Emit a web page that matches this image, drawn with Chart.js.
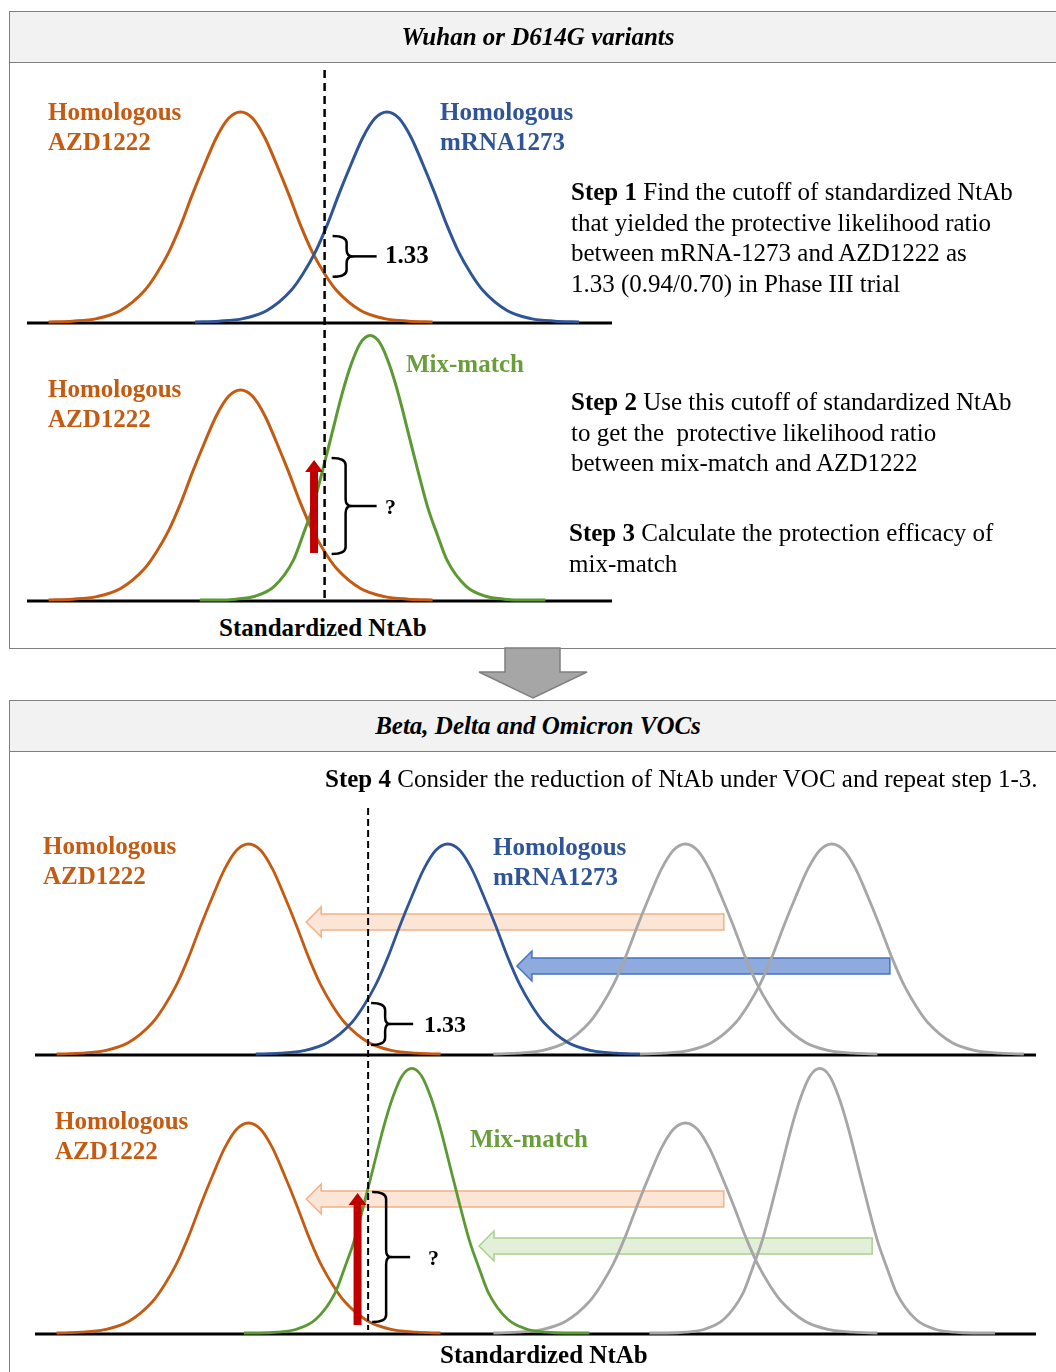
<!DOCTYPE html>
<html>
<head>
<meta charset="utf-8">
<script src="https://cdn.jsdelivr.net/npm/chart.js@4.4.1/dist/chart.umd.min.js"></script>
<style>
html,body{margin:0;padding:0;background:#fff;}
#page{position:relative;width:1056px;height:1372px;overflow:hidden;font-family:"Liberation Serif","Times New Roman",serif;color:#000;}
.box{position:absolute;left:9px;width:1062px;border:1.5px solid #7f7f7f;box-sizing:border-box;z-index:1;}
.hdr{position:absolute;left:0;right:0;top:0;height:50px;background:#f2f2f2;border-bottom:1.5px solid #7f7f7f;}
svg{position:absolute;left:0;top:0;z-index:2;}
canvas{position:absolute;left:0;z-index:3;}
.t{position:absolute;white-space:nowrap;font-size:25px;line-height:30.5px;z-index:4;}
.b{font-weight:bold;}
.hd{position:absolute;left:0;width:1076px;text-align:center;font-size:25px;font-weight:bold;font-style:italic;line-height:30px;z-index:4;}
.or{color:#C55A11;font-weight:bold;line-height:30px;}
.bl{color:#2F5597;font-weight:bold;line-height:30px;}
.gr{color:#6A9E3A;font-weight:bold;}
</style>
</head>
<body>
<div id="page">
  <div class="box" style="top:11px;height:638px;"><div class="hdr"></div></div>
  <div class="box" style="top:700px;height:700px;"><div class="hdr"></div></div>
  <svg width="1056" height="1372"><polygon points="505,648 560,648 560,672 587,672 533,698 479,672 505,672" fill="#a6a6a6" stroke="#7f7f7f" stroke-width="1.5"/></svg>

  <div class="hd" style="top:22px;">Wuhan or D614G variants</div>
  <div class="hd" style="top:711px;">Beta, Delta and Omicron VOCs</div>

  <canvas id="c1" width="620" height="283" style="top:44px;width:620px;height:283px;"></canvas>
  <canvas id="c2" width="620" height="285" style="top:327px;width:620px;height:285px;"></canvas>
  <canvas id="c3" width="1056" height="277" style="top:781px;width:1056px;height:277px;"></canvas>
  <canvas id="c4" width="1056" height="314" style="top:1058px;width:1056px;height:314px;"></canvas>

  <div class="t or" style="left:48px;top:97px;">Homologous<br>AZD1222</div>
  <div class="t bl" style="left:440px;top:97px;">Homologous<br>mRNA1273</div>
  <div class="t b" style="left:385px;top:240px;">1.33</div>
  <div class="t" style="left:571px;top:177px;"><b>Step 1</b> Find the cutoff of standardized NtAb<br>that yielded the protective likelihood ratio<br>between mRNA-1273 and AZD1222 as<br>1.33 (0.94/0.70) in Phase III trial</div>

  <div class="t gr" style="left:406px;top:349px;">Mix-match</div>
  <div class="t or" style="left:48px;top:374px;">Homologous<br>AZD1222</div>
  <div class="t b" style="left:385px;top:492px;font-size:22px;">?</div>
  <div class="t" style="left:571px;top:387px;"><b>Step 2</b> Use this cutoff of standardized NtAb<br>to get the&nbsp; protective likelihood ratio<br>between mix-match and AZD1222</div>
  <div class="t" style="left:569px;top:518px;"><b>Step 3</b> Calculate the protection efficacy of<br>mix-match</div>
  <div class="t b" style="left:219px;top:613px;">Standardized NtAb</div>

  <div class="t" style="left:325px;top:764px;"><b>Step 4</b> Consider the reduction of NtAb under VOC and repeat step 1-3.</div>
  <div class="t or" style="left:43px;top:831px;">Homologous<br>AZD1222</div>
  <div class="t bl" style="left:493px;top:832px;">Homologous<br>mRNA1273</div>
  <div class="t b" style="left:424px;top:1009px;font-size:24px;">1.33</div>

  <div class="t or" style="left:55px;top:1106px;">Homologous<br>AZD1222</div>
  <div class="t gr" style="left:470px;top:1124px;">Mix-match</div>
  <div class="t b" style="left:428px;top:1243px;font-size:22px;">?</div>
  <div class="t b" style="left:440px;top:1340px;">Standardized NtAb</div>
</div>

<script>
// ---- Values (standardized NtAb on x, relative density on y) ----
// Wuhan / D614G panels
const azdWuhanNtAb  = [0.45,0.95,1.45,1.95,2.45,2.7,2.95,3.2,3.45,3.7,3.95,4.2,4.45,4.7,4.95,5.2,5.45,5.7,5.95,6.2,6.45,6.95,7.45,7.95,8.45];
const azdWuhanDens  = [0,0.004,0.016,0.055,0.15,0.23,0.33,0.46,0.61,0.75,0.88,0.97,1,0.97,0.88,0.75,0.61,0.46,0.33,0.23,0.15,0.055,0.016,0.004,0];
const mrnaWuhanNtAb = [3.5,4,4.5,5,5.5,5.75,6,6.25,6.5,6.75,7,7.25,7.5,7.75,8,8.25,8.5,8.75,9,9.25,9.5,10,10.5,11,11.5];
const mrnaWuhanDens = [0,0.004,0.016,0.055,0.15,0.23,0.33,0.46,0.61,0.75,0.88,0.97,1,0.97,0.88,0.75,0.61,0.46,0.33,0.23,0.15,0.055,0.016,0.004,0];
const mixWuhanNtAb  = [3.6,3.95,4.35,4.75,5.15,5.55,5.75,5.95,6.15,6.35,6.55,6.75,6.95,7.15,7.35,7.55,7.75,7.95,8.15,8.35,8.55,8.75,9.15,9.55,9.95,10.35,10.8];
const mixWuhanDens  = [0,0,0.004,0.018,0.065,0.19,0.31,0.44,0.61,0.79,0.97,1.12,1.225,1.26,1.225,1.12,0.97,0.79,0.61,0.44,0.31,0.19,0.065,0.018,0.004,0,0];
const cutoffWuhan   = 6.2;
const ratioWuhan    = [0.41, 0.215];   // mRNA1273 vs AZD1222 at cutoff
const ratioMix      = [0.676, 0.219];  // mix-match vs AZD1222 at cutoff
const liftMix       = [5.98, 0.224, 0.667];

// VOC panels
const azdVocNtAb    = [0.45,0.95,1.45,1.95,2.45,2.7,2.95,3.2,3.45,3.7,3.95,4.2,4.45,4.7,4.95,5.2,5.45,5.7,5.95,6.2,6.45,6.95,7.45,7.95,8.45];
const azdVocDens    = [0,0.004,0.016,0.055,0.15,0.23,0.33,0.46,0.61,0.75,0.88,0.97,1,0.97,0.88,0.75,0.61,0.46,0.33,0.23,0.15,0.055,0.016,0.004,0];
const mrnaVocNtAb   = [4.6,5.1,5.6,6.1,6.6,6.85,7.1,7.35,7.6,7.85,8.1,8.35,8.6,8.85,9.1,9.35,9.6,9.85,10.1,10.35,10.6,11.1,11.6,12.1,12.6];
const mrnaVocDens   = [0,0.004,0.016,0.055,0.15,0.23,0.33,0.46,0.61,0.75,0.88,0.97,1,0.97,0.88,0.75,0.61,0.46,0.33,0.23,0.15,0.055,0.016,0.004,0];
const azdRefNtAb    = [9.55,10.05,10.55,11.05,11.55,11.8,12.05,12.3,12.55,12.8,13.05,13.3,13.55,13.8,14.05,14.3,14.55,14.8,15.05,15.3,15.55,16.05,16.55,17.05,17.55];
const azdRefDens    = [0,0.004,0.016,0.055,0.15,0.23,0.33,0.46,0.61,0.75,0.88,0.97,1,0.97,0.88,0.75,0.61,0.46,0.33,0.23,0.15,0.055,0.016,0.004,0];
const mrnaRefNtAb   = [12.6,13.1,13.6,14.1,14.6,14.85,15.1,15.35,15.6,15.85,16.1,16.35,16.6,16.85,17.1,17.35,17.6,17.85,18.1,18.35,18.6,19.1,19.6,20.1,20.6];
const mrnaRefDens   = [0,0.004,0.016,0.055,0.15,0.23,0.33,0.46,0.61,0.75,0.88,0.97,1,0.97,0.88,0.75,0.61,0.46,0.33,0.23,0.15,0.055,0.016,0.004,0];
const mixVocNtAb    = [4.35,4.65,5.05,5.45,5.85,6.25,6.45,6.65,6.85,7.05,7.25,7.45,7.65,7.85,8.05,8.25,8.45,8.65,8.85,9.05,9.25,9.45,9.85,10.25,10.65,11.05,11.55];
const mixVocDens    = [0,0,0.004,0.018,0.065,0.19,0.31,0.44,0.61,0.79,0.97,1.12,1.225,1.26,1.225,1.12,0.97,0.79,0.61,0.44,0.31,0.19,0.065,0.018,0.004,0,0];
const mixRefNtAb    = [12.8,13.15,13.55,13.95,14.35,14.75,14.95,15.15,15.35,15.55,15.75,15.95,16.15,16.35,16.55,16.75,16.95,17.15,17.35,17.55,17.75,17.95,18.35,18.75,19.15,19.55,20.0];
const mixRefDens    = [0,0,0.004,0.018,0.065,0.19,0.31,0.44,0.61,0.79,0.97,1.12,1.225,1.26,1.225,1.12,0.97,0.79,0.61,0.44,0.31,0.19,0.065,0.018,0.004,0,0];
const cutoffVoc     = 6.94;
const ratioVoc      = [0.243, 0.043];
const ratioMixVoc   = [0.671, 0.052];
const liftMixVoc    = [6.72, 0.038, 0.667];
const azdShift      = [14.35, 5.65];   // NtAb reduction, AZD1222
const mrnaShift     = [17.81, 10.04];  // NtAb reduction, mRNA1273
const mixShift      = [17.44, 9.25];   // NtAb reduction, mix-match

// ---- colours ----
const ORANGE = '#C55A11', BLUE = '#2F5597', GREEN = '#5B9A32', GRAY = '#A6A6A6';

// ---- annotation drawing (through each chart's scales) ----
const notes = {
  c1: { cutoff: {x: cutoffWuhan, top: 1.2, bottom: null, dash: [8,5], offset: 0, width: 2.5},
        brace: {x: cutoffWuhan, hi: ratioWuhan[0], lo: ratioWuhan[1], dx: 8, v: 14, tip: 20, end: 44} },
  c2: { cutoff: {x: cutoffWuhan, top: null, bottom: 0, dash: [8,5], offset: 10, width: 2.5},
        lift: {x: liftMix[0], from: liftMix[1], to: liftMix[2]},
        brace: {x: cutoffWuhan, hi: ratioMix[0], lo: ratioMix[1], dx: 7, v: 14, tip: 20, end: 45} },
  c3: { cutoff: {x: cutoffVoc, top: 1.171, bottom: null, dash: [7,4], offset: 0, width: 2},
        shifts: [
          {from: azdShift[0], to: azdShift[1], level: 0.629, fill: '#FBE5D6', stroke: '#F4B183'},
          {from: mrnaShift[0], to: mrnaShift[1], level: 0.419, fill: '#8FAADC', stroke: '#4472C4'}],
        brace: {x: cutoffVoc, hi: ratioVoc[0], lo: ratioVoc[1], dx: 3, v: 14, tip: 19, end: 42} },
  c4: { cutoff: {x: cutoffVoc, top: null, bottom: 0.014, dash: [7,4], offset: 8, width: 2},
        shifts: [
          {from: azdShift[0], to: azdShift[1], level: 0.638, fill: '#FBE5D6', stroke: '#F4B183'},
          {from: mixShift[0], to: mixShift[1], level: 0.414, fill: '#E2F0D9', stroke: '#A9D18E'}],
        lift: {x: liftMixVoc[0], from: liftMixVoc[1], to: liftMixVoc[2]},
        brace: {x: cutoffVoc, hi: ratioMixVoc[0], lo: ratioMixVoc[1], dx: 4, v: 14, tip: 19, end: 38} }
};

const schematic = {
  id: 'schematic',
  beforeDatasetsDraw(chart) {
    const o = notes[chart.canvas.id]; if (!o) return;
    const {ctx, chartArea: a, scales: {x, y}} = chart;
    ctx.save();
    (o.shifts || []).forEach(s => {
      const xa = x.getPixelForValue(s.from), xb = x.getPixelForValue(s.to), cy = y.getPixelForValue(s.level);
      const hl = 15, h1 = 8, h2 = 15;
      ctx.beginPath();
      ctx.moveTo(xb, cy);
      ctx.lineTo(xb + hl, cy - h2);
      ctx.lineTo(xb + hl, cy - h1);
      ctx.lineTo(xa, cy - h1);
      ctx.lineTo(xa, cy + h1);
      ctx.lineTo(xb + hl, cy + h1);
      ctx.lineTo(xb + hl, cy + h2);
      ctx.closePath();
      ctx.fillStyle = s.fill; ctx.fill();
      ctx.strokeStyle = s.stroke; ctx.lineWidth = 1.5; ctx.stroke();
    });
    const by = y.getPixelForValue(0) + 1;
    ctx.beginPath(); ctx.moveTo(a.left, by); ctx.lineTo(a.right, by);
    ctx.strokeStyle = '#000'; ctx.lineWidth = 3; ctx.stroke();
    ctx.restore();
  },
  afterDatasetsDraw(chart) {
    const o = notes[chart.canvas.id]; if (!o) return;
    const {ctx, scales: {x, y}} = chart;
    const H = chart.height;
    ctx.save();
    if (o.cutoff) {
      const c = o.cutoff, cx = x.getPixelForValue(c.x);
      const y0 = c.top == null ? 0 : y.getPixelForValue(c.top);
      const y1 = c.bottom == null ? H : y.getPixelForValue(c.bottom);
      ctx.setLineDash(c.dash); ctx.lineDashOffset = c.offset;
      ctx.strokeStyle = '#000'; ctx.lineWidth = c.width;
      ctx.beginPath(); ctx.moveTo(cx, y0); ctx.lineTo(cx, y1); ctx.stroke();
      ctx.setLineDash([]);
    }
    if (o.lift) {
      const l = o.lift, lx = x.getPixelForValue(l.x);
      const yb = y.getPixelForValue(l.from), yt = y.getPixelForValue(l.to);
      ctx.fillStyle = '#C00000';
      ctx.fillRect(lx - 4, yt + 11, 8, yb - yt - 11);
      ctx.beginPath(); ctx.moveTo(lx, yt); ctx.lineTo(lx + 9, yt + 12); ctx.lineTo(lx - 9, yt + 12); ctx.closePath(); ctx.fill();
    }
    if (o.brace) {
      const b = o.brace;
      const L = x.getPixelForValue(b.x) + b.dx;
      const top = y.getPixelForValue(b.hi), bot = y.getPixelForValue(b.lo), mid = (top + bot) / 2;
      const V = L + b.v, T = L + b.tip, r = Math.min(7, (bot - top) / 6);
      ctx.strokeStyle = '#000'; ctx.lineWidth = 2.5; ctx.lineJoin = 'round'; ctx.lineCap = 'butt';
      ctx.beginPath();
      ctx.moveTo(L, top);
      ctx.quadraticCurveTo(V, top, V, top + r);
      ctx.lineTo(V, mid - r);
      ctx.quadraticCurveTo(V, mid, T, mid);
      ctx.quadraticCurveTo(V, mid, V, mid + r);
      ctx.lineTo(V, bot - r);
      ctx.quadraticCurveTo(V, bot, L, bot);
      ctx.stroke();
      ctx.beginPath(); ctx.moveTo(T, mid); ctx.lineTo(L + b.end, mid); ctx.stroke();
    }
    ctx.restore();
  }
};
Chart.register(schematic);

function curve(label, xs, ys, color, width) {
  return {
    label, data: xs.map((v, i) => ({x: v, y: ys[i]})),
    borderColor: color, backgroundColor: color, borderWidth: width,
    fill: false, pointRadius: 0, cubicInterpolationMode: 'monotone', clip: false
  };
}

function panel(id, datasets, xMax, pad) {
  return new Chart(document.getElementById(id), {
    type: 'line',
    data: {datasets},
    options: {
      responsive: false, animation: false, devicePixelRatio: 1, events: [],
      layout: {padding: pad},
      plugins: {legend: {display: false}, tooltip: {enabled: false}},
      scales: {
        x: {type: 'linear', min: 0, max: xMax, display: false},
        y: {type: 'linear', min: 0, max: 1.3, display: false}
      }
    }
  });
}

panel('c1', [
  curve('Homologous mRNA1273', mrnaWuhanNtAb, mrnaWuhanDens, BLUE, 3),
  curve('Homologous AZD1222', azdWuhanNtAb, azdWuhanDens, ORANGE, 3)
], 12.1875, {left: 27, right: 8, top: 5, bottom: 5});

panel('c2', [
  curve('Mix-match', mixWuhanNtAb, mixWuhanDens, GREEN, 3),
  curve('Homologous AZD1222', azdWuhanNtAb, azdWuhanDens, ORANGE, 3)
], 12.1875, {left: 27, right: 8, top: 0, bottom: 12});

panel('c3', [
  curve('Homologous mRNA1273 (VOC)', mrnaVocNtAb, mrnaVocDens, BLUE, 2.8),
  curve('Homologous AZD1222 (VOC)', azdVocNtAb, azdVocDens, ORANGE, 2.8),
  curve('AZD1222 (Wuhan)', azdRefNtAb, azdRefDens, GRAY, 2.8),
  curve('mRNA1273 (Wuhan)', mrnaRefNtAb, mrnaRefDens, GRAY, 2.8)
], 20.854, {left: 35, right: 20, top: 0, bottom: 4});

panel('c4', [
  curve('Mix-match (VOC)', mixVocNtAb, mixVocDens, GREEN, 2.8),
  curve('Homologous AZD1222 (VOC)', azdVocNtAb, azdVocDens, ORANGE, 2.8),
  curve('AZD1222 (Wuhan)', azdRefNtAb, azdRefDens, GRAY, 2.8),
  curve('Mix-match (Wuhan)', mixRefNtAb, mixRefDens, GRAY, 2.8)
], 20.854, {left: 35, right: 20, top: 2, bottom: 39});
</script>
</body>
</html>
